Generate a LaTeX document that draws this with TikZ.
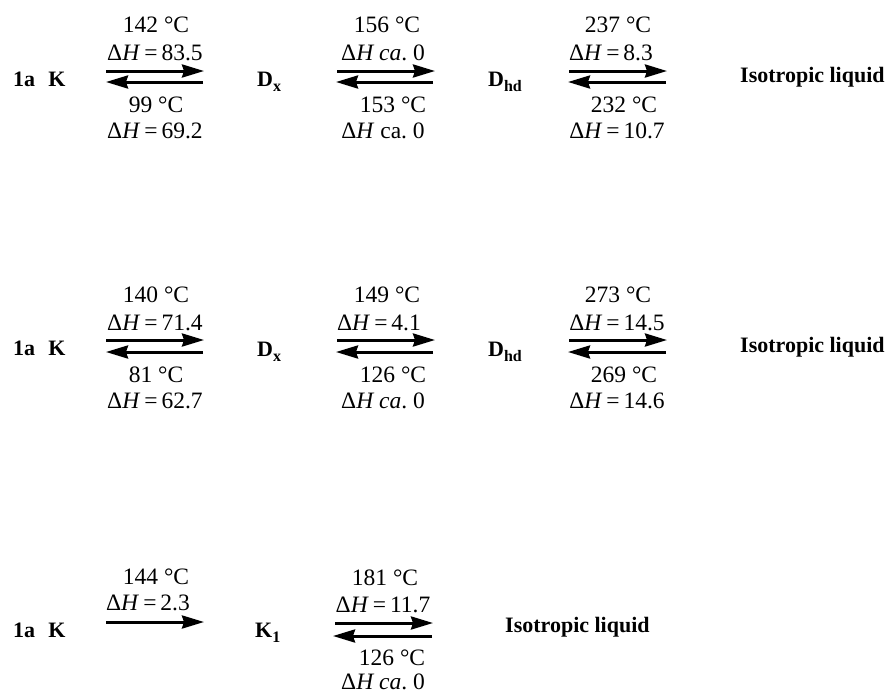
\documentclass[tikz,border=0pt]{standalone}
\usepackage{fontspec}
\setmainfont{Liberation Serif}
\usetikzlibrary{arrows.meta}
\newcommand\dHeq[1]{Δ\textit{H}\kern0.17em=\kern0.17em#1}
\newcommand\dHca{Δ\textit{H ca}.\ 0}
\newcommand\dHcaup{Δ\textit{H} ca.\ 0}
\newcommand\subsc[1]{\raisebox{-5.5pt}{\fontsize{16}{16}\selectfont\bfseries #1}}
\tikzset{
  lbl/.style={anchor=base, inner sep=0pt, font=\fontsize{23.5}{28}\selectfont},
  state/.style={anchor=base west, inner sep=0pt, font=\fontsize{22}{26}\selectfont\bfseries},
  rxn/.style={line width=3pt, -{Stealth[length=22pt, width=13pt, inset=2pt]}}
}
\begin{document}
\begin{tikzpicture}[x=1pt, y=-1pt]
\useasboundingbox (0,0) rectangle (892,691);
% ---------------- row 1 ----------------
\node[state] (k1) at (13,86) {1a\hspace{0.6em}K};
\node[state] (dx1) at (257,86) {D\subsc{x}};
\node[state] (dhd1) at (488,86) {D\subsc{hd}};
\node[state] (iso1) at (740,82) {Isotropic liquid};
\coordinate (a1ts) at (106,71); \coordinate (a1te) at (204,71);
\coordinate (a1bs) at (203,82); \coordinate (a1be) at (106,82);
\coordinate (a2ts) at (337,71); \coordinate (a2te) at (435,71);
\coordinate (a2bs) at (433,82); \coordinate (a2be) at (336,82);
\coordinate (a3ts) at (569,71); \coordinate (a3te) at (667,71);
\coordinate (a3bs) at (666,82); \coordinate (a3be) at (568,82);
\draw[rxn] (a1ts) -- (a1te); \draw[rxn] (a1bs) -- (a1be);
\draw[rxn] (a2ts) -- (a2te); \draw[rxn] (a2bs) -- (a2be);
\draw[rxn] (a3ts) -- (a3te); \draw[rxn] (a3bs) -- (a3be);
\node[lbl] (t11) at (156,32) {142 °C};
\node[lbl] (t12) at (155,60) {\dHeq{83.5}};
\node[lbl] (b11) at (156,112) {99 °C};
\node[lbl] (b12) at (155,138) {\dHeq{69.2}};
\node[lbl] (t21) at (387,32) {156 °C};
\node[lbl] (t22) at (383,60) {\dHca};
\node[lbl] (b21) at (393,112) {153 °C};
\node[lbl] (b22) at (383,138) {\dHcaup};
\node[lbl] (t31) at (618,32) {237 °C};
\node[lbl] (t32) at (611,60) {\dHeq{8.3}};
\node[lbl] (b31) at (624,112) {232 °C};
\node[lbl] (b32) at (617,138) {\dHeq{10.7}};
% ---------------- row 2 ----------------
\node[state] (k2) at (13,355) {1a\hspace{0.6em}K};
\node[state] (dx2) at (257,356) {D\subsc{x}};
\node[state] (dhd2) at (488,356) {D\subsc{hd}};
\node[state] (iso2) at (740,352) {Isotropic liquid};
\coordinate (b1ts) at (106,340); \coordinate (b1te) at (204,340);
\coordinate (b1bs) at (203,352); \coordinate (b1be) at (106,352);
\coordinate (b2ts) at (337,340); \coordinate (b2te) at (435,340);
\coordinate (b2bs) at (433,352); \coordinate (b2be) at (336,352);
\coordinate (b3ts) at (569,340); \coordinate (b3te) at (667,340);
\coordinate (b3bs) at (666,352); \coordinate (b3be) at (568,352);
\draw[rxn] (b1ts) -- (b1te); \draw[rxn] (b1bs) -- (b1be);
\draw[rxn] (b2ts) -- (b2te); \draw[rxn] (b2bs) -- (b2be);
\draw[rxn] (b3ts) -- (b3te); \draw[rxn] (b3bs) -- (b3be);
\node[lbl] (u11) at (156,302) {140 °C};
\node[lbl] (u12) at (155,330) {\dHeq{71.4}};
\node[lbl] (v11) at (156,382) {81 °C};
\node[lbl] (v12) at (155,408) {\dHeq{62.7}};
\node[lbl] (u21) at (387,302) {149 °C};
\node[lbl] (u22) at (379,330) {\dHeq{4.1}};
\node[lbl] (v21) at (393,382) {126 °C};
\node[lbl] (v22) at (383,408) {\dHca};
\node[lbl] (u31) at (618,302) {273 °C};
\node[lbl] (u32) at (617,330) {\dHeq{14.5}};
\node[lbl] (v31) at (624,382) {269 °C};
\node[lbl] (v32) at (617,408) {\dHeq{14.6}};
% ---------------- row 3 ----------------
\node[state] (k3) at (13,637) {1a\hspace{0.6em}K};
\node[state] (ka3) at (255,637) {K\subsc{1}};
\node[state] (iso3) at (505,632) {Isotropic liquid};
\coordinate (c1ts) at (106,622); \coordinate (c1te) at (204,622);
\coordinate (c2ts) at (335,623); \coordinate (c2te) at (433,623);
\coordinate (c2bs) at (432,636); \coordinate (c2be) at (333,636);
\draw[rxn] (c1ts) -- (c1te);
\draw[rxn] (c2ts) -- (c2te); \draw[rxn] (c2bs) -- (c2be);
\node[lbl] (w11) at (156,584) {144 °C};
\node[lbl] (w12) at (148,610) {\dHeq{2.3}};
\node[lbl] (w21) at (385,585) {181 °C};
\node[lbl] (w22) at (383,612) {\dHeq{11.7}};
\node[lbl] (x21) at (392,665) {126 °C};
\node[lbl] (x22) at (383,689) {\dHca};
\end{tikzpicture}
\end{document}
